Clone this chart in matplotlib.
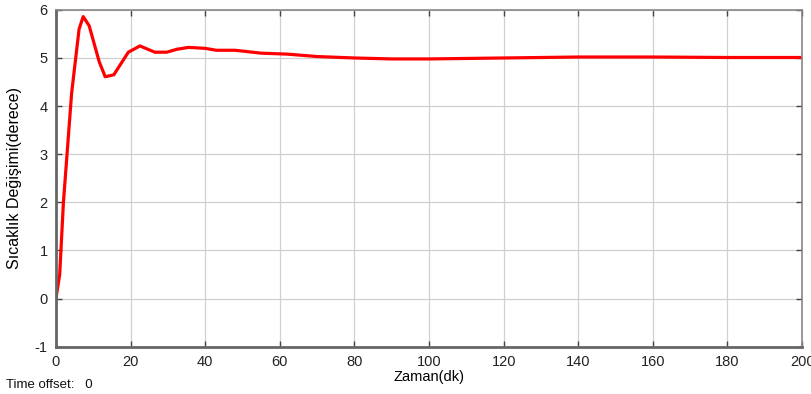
import matplotlib.pyplot as plt

# zaman (dk) ve sıcaklık değişimi (derece)
zaman = [0, 1, 2, 4.2, 6.2, 7.3, 8.9, 11.6, 13.2, 15.5, 19.4, 22.5, 26.5, 29.7,
         32.4, 35.5, 40, 43, 48, 55, 62, 70, 80, 90, 100, 120, 140, 160, 180, 200]
sicaklik = [0, 0.5, 2.0, 4.27, 5.6, 5.86, 5.67, 4.92, 4.61, 4.65, 5.12, 5.25, 5.12, 5.12,
            5.18, 5.22, 5.2, 5.16, 5.16, 5.1, 5.08, 5.03, 5.0, 4.98, 4.98, 5.0, 5.02, 5.02,
            5.01, 5.01]

xticks = list(range(0, 201, 20))
yticks = list(range(-1, 7))

plt.rcParams['font.family'] = ['Liberation Sans', 'DejaVu Sans']
plt.rcParams['axes.unicode_minus'] = False

fig = plt.figure(figsize=(8.11, 3.94), dpi=100)
ax = fig.add_axes([0.069, 0.120, 0.920, 0.855])

ax.plot(zaman, sicaklik, color='red', linewidth=2.3)

ax.set_xlim(0, 200)
ax.set_ylim(-1, 6)
ax.set_xticks(xticks)
ax.set_yticks(yticks)
ax.grid(True, color='#d0d0d0', linewidth=0.9)
ax.tick_params(direction='in', length=4, colors='#444444', labelcolor='#222222',
               labelsize=10.5, top=True, right=True, width=1, pad=6)

for side in ['left', 'bottom']:
    ax.spines[side].set_color('#666666')
    ax.spines[side].set_linewidth(2)
for side in ['top', 'right']:
    ax.spines[side].set_color('#888888')
    ax.spines[side].set_linewidth(1.2)

ax.set_xlabel('Zaman(dk)', fontsize=10.5, labelpad=1)
ax.set_ylabel('Sıcaklık Değişimi(derece)', fontsize=11.5, labelpad=9,
              family=['Liberation Sans Narrow', 'Liberation Sans'])

fig.text(0.008, 0.015, 'Time offset:   0', fontsize=9.5, color='#111111')

fig.savefig('out.png', dpi=100)
